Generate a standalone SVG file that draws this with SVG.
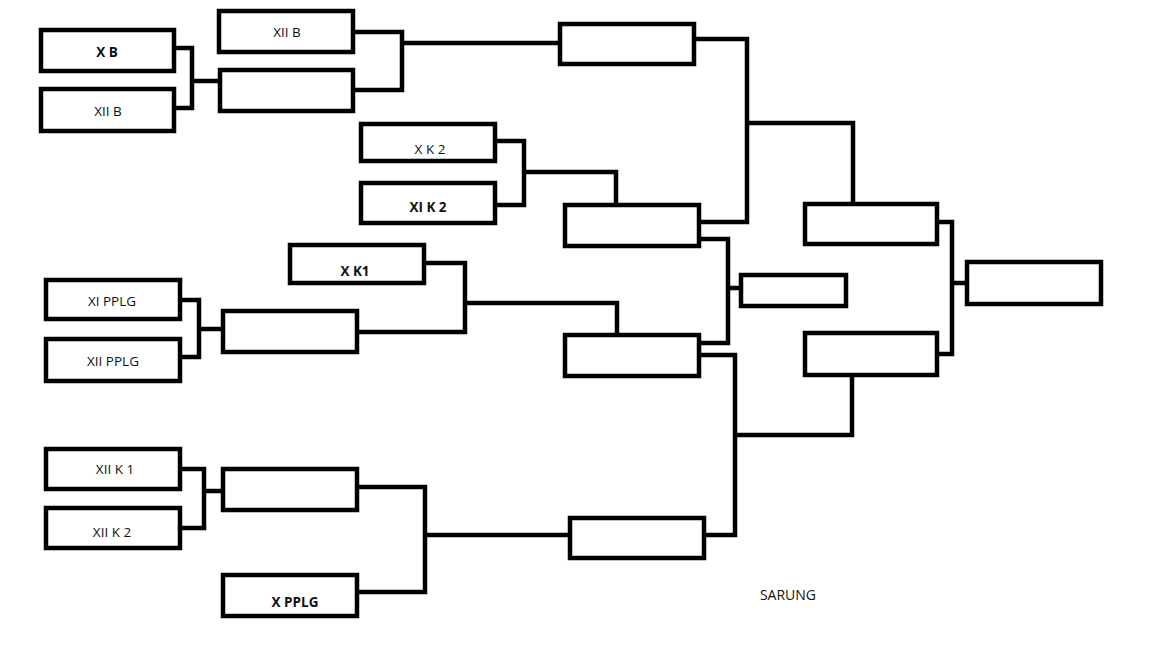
<svg xmlns="http://www.w3.org/2000/svg" width="1152" height="648" viewBox="0 0 1152 648">
<style>
.box{fill:#fff;stroke:#000;stroke-width:4.5}
.ln{fill:none;stroke:#000;stroke-width:4.5;stroke-linecap:square}
.t{font-family:"Open Sans","Noto Sans",sans-serif;font-size:13.5px;fill:#111;text-anchor:middle}
.b{font-weight:700}
.s{font-weight:400}
</style>
<rect width="1152" height="648" fill="#fff"/>
<g id="connectors">
<path class="ln" d="M174 48H192V108H174M192 81H220"/>
<path class="ln" d="M353 32H402V90H353M402 43H560"/>
<path class="ln" d="M694 39H747V222H699M747 123H853V204"/>
<path class="ln" d="M495 141H524V205H495M524 172H616V205"/>
<path class="ln" d="M180 300H199V357H180M199 329H223"/>
<path class="ln" d="M424 263H465V332H357M465 303H617V335"/>
<path class="ln" d="M699 239H728V343H699M728 288H741"/>
<path class="ln" d="M699 355H735V535H704M735 435H852V375"/>
<path class="ln" d="M937 222H952V354H937M952 283H967"/>
<path class="ln" d="M180 469H204V528H180M204 491H223"/>
<path class="ln" d="M357 487H425V592H357M425 535H570"/>
</g>
<g id="n_xb"><rect class="box" x="41" y="30" width="133" height="41"/><text class="t b" x="107" y="57">X B</text></g>
<g id="n_xiib_l"><rect class="box" x="41" y="89" width="133" height="42"/><text class="t s" x="108" y="116">XII B</text></g>
<g id="n_xiib_t"><rect class="box" x="219" y="11" width="134" height="41"/><text class="t s" x="287" y="37">XII B</text></g>
<g id="n_r1a"><rect class="box" x="220" y="70" width="133" height="41"/></g>
<g id="n_r2a"><rect class="box" x="560" y="24" width="134" height="40"/></g>
<g id="n_xk2"><rect class="box" x="361" y="124" width="134" height="37"/><text class="t s" x="430" y="154">X K 2</text></g>
<g id="n_xik2"><rect class="box" x="361" y="183" width="134" height="40"/><text class="t b" x="428" y="212">XI K 2</text></g>
<g id="n_r2b"><rect class="box" x="565" y="205" width="134" height="41"/></g>
<g id="n_xk1"><rect class="box" x="290" y="245" width="134" height="38"/><text class="t b" x="355" y="276">X K1</text></g>
<g id="n_xipplg"><rect class="box" x="46" y="280" width="134" height="39"/><text class="t s" x="112" y="306">XI PPLG</text></g>
<g id="n_xiipplg"><rect class="box" x="46" y="339" width="134" height="42"/><text class="t s" x="113" y="366">XII PPLG</text></g>
<g id="n_r1b"><rect class="box" x="223" y="311" width="134" height="41"/></g>
<g id="n_r2c"><rect class="box" x="565" y="335" width="134" height="41"/></g>
<g id="n_mid"><rect class="box" x="741" y="275" width="105" height="31"/></g>
<g id="n_sf1"><rect class="box" x="805" y="204" width="132" height="40"/></g>
<g id="n_sf2"><rect class="box" x="805" y="333" width="132" height="42"/></g>
<g id="n_final"><rect class="box" x="967" y="262" width="134" height="42"/></g>
<g id="n_xiik1"><rect class="box" x="46" y="449" width="134" height="40"/><text class="t s" x="115" y="474">XII K 1</text></g>
<g id="n_xiik2"><rect class="box" x="46" y="508" width="134" height="40"/><text class="t s" x="112" y="537">XII K 2</text></g>
<g id="n_r1c"><rect class="box" x="223" y="469" width="134" height="41"/></g>
<g id="n_xpplg"><rect class="box" x="223" y="575" width="134" height="41"/><text class="t b" x="295" y="607">X PPLG</text></g>
<g id="n_r2d"><rect class="box" x="570" y="518" width="134" height="40"/></g>
<text class="t s" x="788" y="600" style="font-size:14px">SARUNG</text>
</svg>
